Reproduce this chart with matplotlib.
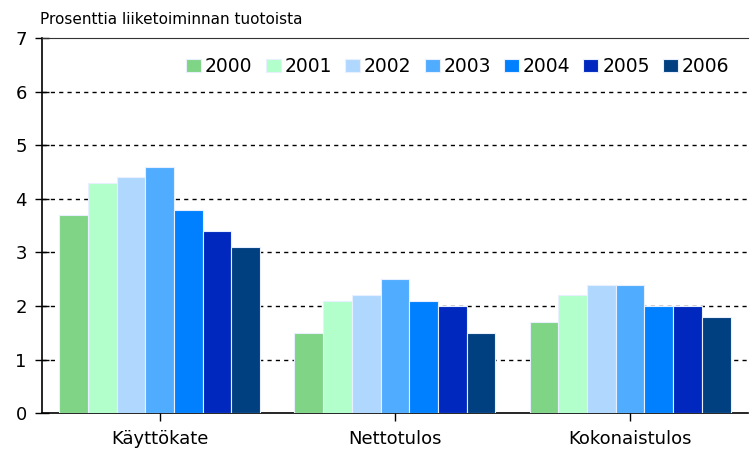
import matplotlib.pyplot as plt
import numpy as np

categories = ['Käyttökate', 'Nettotulos', 'Kokonaistulos']
years = ['2000', '2001', '2002', '2003', '2004', '2005', '2006']
v2000 = [3.7, 1.5, 1.7]
v2001 = [4.3, 2.1, 2.2]
v2002 = [4.4, 2.2, 2.4]
v2003 = [4.6, 2.5, 2.4]
v2004 = [3.8, 2.1, 2.0]
v2005 = [3.4, 2.0, 2.0]
v2006 = [3.1, 1.5, 1.8]
series = [v2000, v2001, v2002, v2003, v2004, v2005, v2006]
colors = ['#7fd485', '#b3ffcc', '#b0d8ff', '#50acff', '#0080ff', '#0028be', '#004080']

fig = plt.figure(figsize=(7.5, 4.54), dpi=100)
ax = fig.add_axes([0.056, 0.09, 0.941, 0.826])

x = np.arange(len(categories))
w = 0.122
for i, (vals, c, yr) in enumerate(zip(series, colors, years)):
    ax.bar(x + (i - 3) * w, vals, w, color=c, edgecolor='#e8f0ff', linewidth=0.8,
           label=yr, zorder=3)

ax.set_xlim(-0.5, 2.5)
ax.set_ylim(0, 7)
ax.set_yticks(range(8))
ax.set_xticks(x)
ax.set_xticklabels(categories, fontsize=13)
ax.tick_params(axis='y', labelsize=13, direction='inout', length=10, width=1, pad=6)
ax.tick_params(axis='x', direction='out', length=6, width=1, pad=6)
for yv in range(1, 7):
    ax.axhline(yv, color='black', linestyle=(0, (3, 3)), linewidth=1, zorder=1)

ax.spines['right'].set_visible(False)
ax.spines['top'].set_color('#333333')
ax.spines['left'].set_linewidth(1.2)
ax.spines['bottom'].set_linewidth(1.2)

ax.legend(loc='upper right', ncol=7, frameon=False, fontsize=13.5,
          handlelength=0.8, handleheight=0.7, handletextpad=0.2,
          columnspacing=0.7, borderaxespad=0.6, bbox_to_anchor=(1.0, 1.0))

fig.text(0.053, 0.957, 'Prosenttia liiketoiminnan tuotoista', fontsize=11, va='center')

fig.savefig('out.png')
